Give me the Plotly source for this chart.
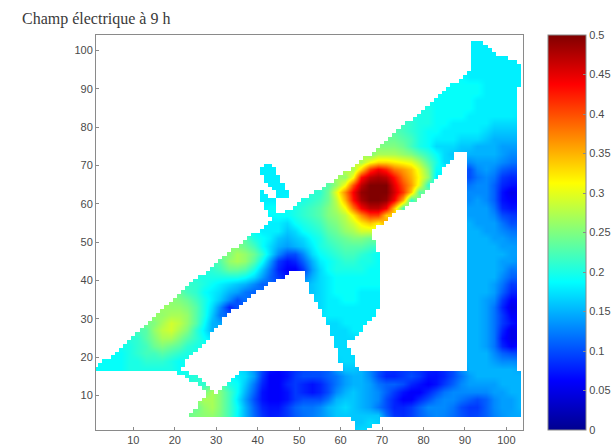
import numpy as np
import plotly.graph_objects as go

TITLE = "Champ électrique à 9 h"
X_TICKS = list(range(10, 101, 10))
Y_TICKS = list(range(10, 101, 10))
CBAR_TICKS = [0, 0.05, 0.1, 0.15, 0.2, 0.25, 0.3, 0.35, 0.4, 0.45, 0.5]
CBAR_TEXT = ["0", "0.05", "0.1", "0.15", "0.2", "0.25", "0.3", "0.35", "0.4", "0.45", "0.5"]

X_GRID = list(range(1, 104, 2))
Y_GRID = list(range(1, 104, 2))
X_CELLS = list(range(1, 105))
Y_CELLS = list(range(1, 105))

# field strength in hundredths: (row y, first column x, values)
FIELD_ROWS = [
 (101,93,"18 18"),
 (99,93,"18 18 18"),
 (97,93,"18 18 18 18 18"),
 (95,93,"18 18 18 18 18 18"),
 (93,91,"18 18 18 18 18 18 18"),
 (91,87,"19 19 19 19 18 18 18 18"),
 (89,85,"19 19 19 19 19 18 18 18 18"),
 (87,83,"19 19 19 19 19 18 18 18 18 18"),
 (85,81,"20 19 19 19 19 19 18 18 18 18 18"),
 (83,79,"20 20 19 19 19 19 18 18 18 18 18 18"),
 (81,77,"21 20 20 19 19 18 18 18 18 18 17 17 17"),
 (79,73,"23 22 21 20 19 19 18 18 18 18 18 17 16 16 16"),
 (77,71,"24 24 23 22 20 19 18 18 18 17 17 17 16 15 15 15"),
 (75,69,"25 25 25 24 22 20 19 17 17 17 16 16 15 15 15 14 14"),
 (73,67,"25 27 27 27 26 25 23 21 19 17 16"),(73,91,"15 15 15 15 14 13"),
 (71,65,"27 31 33 33 32 31 30 27 23 20 17"),(71,91,"13 14 14 14 13 12"),
 (69,41,"18 18"),(69,63,"27 33 41 44 42 38 36 34 30 25 19"),(69,91,"10 13 14 13 11 10"),
 (67,41,"18 18 18"),(67,61,"26 31 43 47 48 47 43 38 35 31 26 18"),(67,91,"10 12 13 12 9 8"),
 (65,43,"18 18"),(65,57,"23 26 31 40 47 50 50 50 45 40 36 30 21"),(65,91,"12 13 13 11 8 7"),
 (63,41,"18"),(63,45,"18 18"),(63,55,"21 24 30 37 44 49 50 50 50 46 41 34 23"),(63,91,"13 13 13 11 7 5"),
 (61,41,"18 18 18"),(61,51,"20 21 22 24 28 35 43 48 50 50 49 44 35 21"),(61,91,"13 14 13 11 7 6"),
 (59,43,"19 19"),(59,49,"20 21 22 23 25 27 31 38 44 47 47 44 34 22"),(59,91,"14 14 14 12 8 7"),
 (57,45,"19 19 20 21 22 23 25 26 28 32 37 41 41 34"),(57,91,"14 14 14 13 10 9"),
 (55,43,"18 18 17 19 20 21 22 24 25 27 29 32 34 32"),(55,91,"15 14 14 14 12 10"),
 (53,41,"18 18 18 16 17 19 20 21 23 24 26 27 29 29"),(53,91,"15 15 14 14 13 12"),
 (51,39,"20 19 18 16 15 16 17 19 20 22 23 24 25 25 24"),(51,91,"15 15 15 14 14 13"),
 (49,35,"25 24 22 19 17 15 14 15 16 18 20 21 22 23 23 23 22"),(49,91,"15 15 15 15 14 14"),
 (47,33,"25 27 26 24 21 17 13 10 10 13 17 19 20 21 22 22 21 20 19"),(47,91,"15 15 15 15 15 14"),
 (45,31,"23 26 27 26 23 19 14 9 7 8 11 15 18 19 20 21 21 20 20 19"),(45,91,"15 15 15 15 14 14"),
 (43,29,"21 22 24 24 23 20 16 12 8 6 6 9 14 17 19 20 20 20 20 19 19"),(43,91,"15 15 15 15 14 12"),
 (41,27,"20 20 20 20 20 19 17 14 11 9"),(41,51,"12 15 17 18 19 19 19 19 19 19"),(41,91,"15 15 15 15 13 11"),
 (39,25,"21 20 19 18 17 16 15 13 11"),(39,53,"16 17 18 19 19 19 19 19 19"),(39,91,"15 15 15 14 12 9"),
 (37,23,"22 21 19 18 17 15 14 12 11"),(37,53,"16 17 18 19 19 19 18 18 18"),(37,91,"15 15 15 14 11 8"),
 (35,21,"25 24 22 20 18 16 13 10"),(35,55,"17 18 18 19 19 18 18 18"),(35,91,"15 15 14 13 9 6"),
 (33,19,"26 26 25 23 20 17 13 8"),(33,55,"17 18 18 18 18 18 18 18"),(33,91,"15 15 14 12 8 5"),
 (31,17,"26 27 27 26 23 20 16 12"),(31,57,"18 18 18 18 18 18"),(31,91,"15 15 14 12 9 6"),
 (29,15,"25 27 29 28 26 23 19 15"),(29,57,"17 17 18 18 18 18"),(29,91,"15 15 14 12 9 7"),
 (27,13,"23 26 28 29 27 25 21 18 15"),(27,57,"17 17 17 18 18"),(27,91,"15 15 14 12 8 5"),
 (25,11,"21 23 25 27 27 25 23 21 19"),(25,59,"17 17 17"),(25,91,"15 15 14 12 7 5"),
 (23,9,"20 21 22 24 25 24 23 21 20"),(23,59,"17 17"),(23,91,"15 15 14 12 8 6"),
 (21,7,"19 20 21 22 22 23 22 21 20"),(21,61,"17"),(21,91,"15 15 15 13 11 10"),
 (19,5,"19 19 20 20 21 21 21 20 19"),(19,61,"17 17"),(19,91,"15 15 15 14 13 13"),
 (17,1,"19 19 19 19 20 20 20 20 20 20 19"),(17,61,"16 16"),(17,91,"15 15 15 15 15 15"),
 (15,23,"20"),(15,35,"18 17 14 9 6 6 7 9 10 10 10 11 12 14 15 15 13 10 8 8 9 10 9 7 7 8 10 12 14 15 15 15 15 15 15"),
 (13,25,"21 21"),(13,33,"20 19 16 12 8 6 6 8 9 8 7 8 10 12 14 15 15 14 12 11 11 10 8 7 6 7 9 11 13 14 14 14 14 15 15 15"),
 (11,29,"27 25 22 19 15 11 7 6 6 7 9 8 7 8 10 13 15 16 15 14 13 11 9 7 6 6 8 10 12 13 13 13 13 13 14 14 15 15"),
 (9,27,"27 27 25 22 18 14 10 7 6 6 7 9 10 10 10 12 15 16 16 15 14 13 10 8 6 6 8 10 12 13 13 12 11 10 11 13 14 14 15"),
 (7,25,"24 26 27 25 22 19 15 11 8 7 7 9 11 12 12 13 15 16 17 16 15 14 12 10 8 8 9 11 13 13 13 12 10 9 9 11 13 14 14 15"),
 (5,63,"16 16 16 16"),
 (3,63,"16 16 17"),
 (1,65,"17"),
]

# measured area, read row by row: y -> pairs of first and last x of each covered run
AREA_RUNS = {
 102:[92,94],101:[92,95],100:[92,96],99:[92,97],98:[92,100],97:[92,102],96:[92,103],95:[92,103],
 94:[91,103],93:[90,103],92:[89,103],91:[87,103],90:[86,102],89:[85,102],88:[84,102],87:[83,102],
 86:[82,102],85:[81,102],84:[80,102],83:[79,102],82:[78,102],81:[76,102],80:[75,102],79:[74,102],
 78:[73,102],77:[72,102],76:[71,102],75:[70,102],74:[69,102],
 73:[68,87,91,102],72:[66,87,91,102],71:[65,86,91,102],
 70:[42,43,64,85,91,102],69:[41,44,63,84,91,102],68:[41,44,61,84,91,102],67:[42,45,60,83,91,102],
 66:[42,45,59,82,91,102],65:[43,46,57,81,91,102],64:[44,46,56,81,91,102],63:[41,41,45,47,54,80,91,102],
 62:[41,42,45,47,53,79,91,102],61:[41,44,51,78,91,102],60:[42,44,50,76,91,102],59:[42,44,49,75,91,102],
 58:[43,44,47,73,91,102],57:[43,72,91,102],56:[44,71,91,102],55:[43,70,91,102],54:[42,68,91,102],
 53:[41,67,91,102],52:[39,67,91,102],51:[38,67,91,102],50:[37,68,91,102],49:[36,68,91,102],
 48:[34,68,91,102],47:[33,69,91,102],46:[32,69,91,102],45:[31,69,91,102],44:[30,69,91,102],43:[29,69,91,102],
 42:[28,47,52,69,91,102],41:[26,46,52,69,91,102],40:[25,44,52,69,91,102],39:[24,42,53,69,91,102],
 38:[23,41,53,69,91,102],37:[22,39,53,69,91,102],36:[21,38,54,69,91,102],35:[20,37,54,69,91,102],
 34:[19,36,55,69,91,102],33:[18,35,55,69,91,102],32:[17,33,56,68,91,102],31:[16,32,56,68,91,102],
 30:[15,31,57,67,91,102],29:[14,31,57,66,91,102],28:[13,30,58,65,91,102],27:[12,29,58,65,91,102],
 26:[11,28,58,64,91,102],25:[10,28,59,63,91,102],24:[9,27,59,61,91,102],23:[8,26,59,61,91,102],
 22:[7,25,60,62,91,102],21:[6,24,60,62,91,102],20:[5,23,60,63,91,102],19:[3,22,60,63,91,102],
 18:[2,22,61,63,91,102],17:[1,21,61,64,91,102],
 16:[21,23,36,103],15:[23,25,35,103],14:[24,26,34,103],13:[26,27,33,103],12:[27,28,32,103],
 11:[28,29,31,103],10:[28,103],9:[27,103],8:[26,103],7:[26,103],6:[25,103],5:[24,103],
 4:[63,69],3:[64,69],2:[64,67],1:[64,66],
}

Z = np.full((len(Y_GRID), len(X_GRID)), np.nan)
for y_row, x_first, text in FIELD_ROWS:
    for k, token in enumerate(text.split()):
        Z[Y_GRID.index(y_row), X_GRID.index(x_first) + k] = int(token) / 100

# carry edge readings two cells outward so that the smoothing reaches the border of the area
for _ in range(2):
    source = Z.copy()
    for r, c in zip(*np.where(np.isnan(source))):
        near = source[max(r - 1, 0):r + 2, max(c - 1, 0):c + 2]
        if np.isfinite(near).any():
            Z[r, c] = np.nanmean(near)

OUTSIDE = [[None if any(runs[i] <= x <= runs[i + 1] for i in range(0, len(runs), 2)) else 1
            for x in X_CELLS for runs in [AREA_RUNS.get(y, [])]] for y in Y_CELLS]

JET = [[0, "rgb(0,0,143)"], [0.125, "rgb(0,0,255)"], [0.375, "rgb(0,255,255)"],
       [0.625, "rgb(255,255,0)"], [0.875, "rgb(255,0,0)"], [1, "rgb(128,0,0)"]]

AXIS = "#8a8a8a"
TEXT = "#4a4a4a"
FONT = "Liberation Sans, Arial, sans-serif"

fig = go.Figure()
fig.add_trace(go.Heatmap(
    x=X_GRID, y=Y_GRID, z=Z.tolist(), zmin=0, zmax=0.5, zsmooth="best",
    colorscale=JET, hoverongaps=False,
    colorbar=dict(
        x=(548 - 96) / 427, xanchor="left", xpad=0, ypad=0, y=0.5, yanchor="middle",
        len=1, lenmode="fraction", thickness=38, thicknessmode="pixels",
        tickmode="array", tickvals=CBAR_TICKS, ticktext=CBAR_TEXT, ticks="inside",
        ticklen=3, tickcolor=AXIS, tickwidth=1, outlinecolor=AXIS, outlinewidth=1,
        tickfont=dict(family=FONT, size=11, color=TEXT),
    ),
))
fig.add_trace(go.Heatmap(
    x=X_CELLS, y=Y_CELLS, z=OUTSIDE, zmin=0, zmax=1, zsmooth=False,
    colorscale=[[0, "white"], [1, "white"]], showscale=False, hoverinfo="skip",
))
fig.update_layout(
    width=615, height=447, autosize=False,
    margin=dict(l=96, r=92, t=35, b=17, autoexpand=False),
    paper_bgcolor="white", plot_bgcolor="white",
    title=dict(text=TITLE, x=22 / 615, xref="container", xanchor="left",
               y=1 - 18 / 447, yref="container", yanchor="middle",
               font=dict(family="Liberation Serif, serif", size=16, color="#3a3a3a")),
)
for upd, ticks in ((fig.update_xaxes, X_TICKS), (fig.update_yaxes, Y_TICKS)):
    upd(range=[1, 104], tickmode="array", tickvals=ticks, ticks="inside", ticklen=3,
        tickcolor=AXIS, showline=True, linecolor=AXIS, linewidth=1, mirror=True,
        showgrid=False, zeroline=False, tickfont=dict(family=FONT, size=11, color=TEXT))
fig.write_html("out.html", default_width="615px", default_height="447px",
               config={"displayModeBar": False},
               post_script="document.body.style.margin='0';")
